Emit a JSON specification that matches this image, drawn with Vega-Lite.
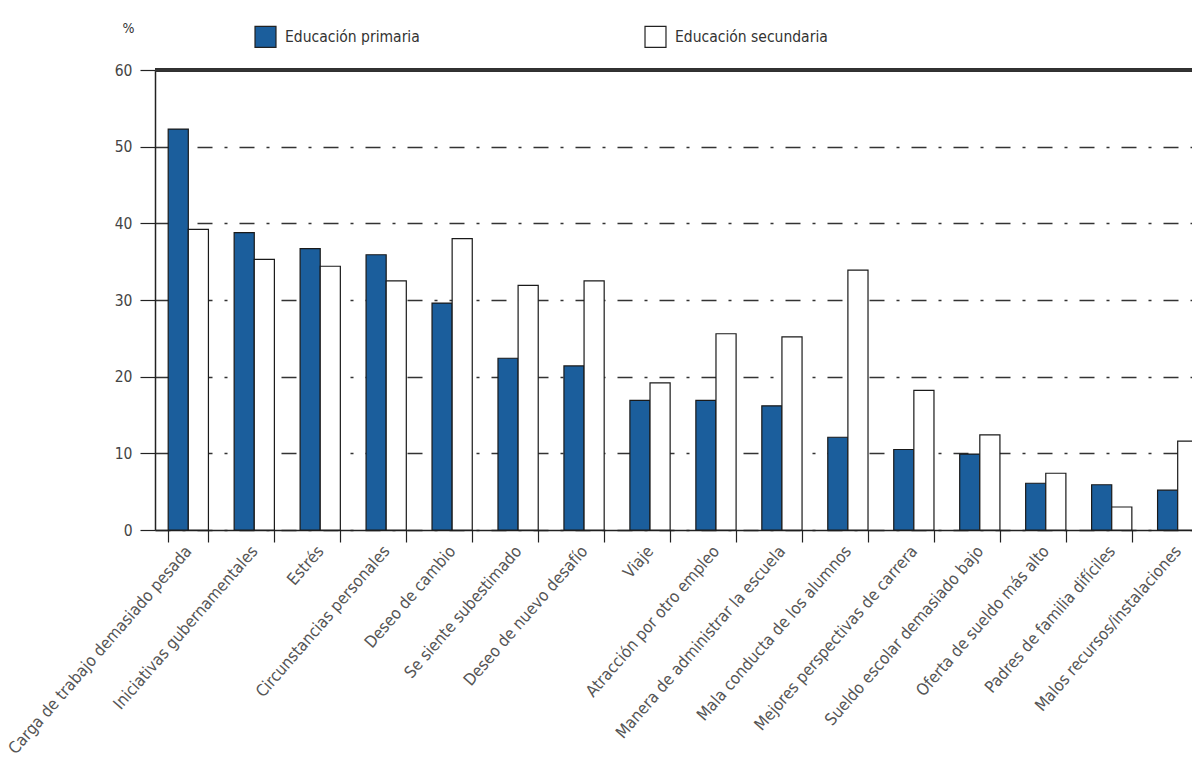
{
  "$schema": "https://vega.github.io/schema/vega-lite/v6.json",
  "width": 1037,
  "height": 460,
  "autosize": {"type": "none"},
  "padding": {"left": 155, "top": 70, "right": 0, "bottom": 241},
  "background": "white",
  "config": {
    "view": {"stroke": null},
    "font": "DejaVu Sans Condensed, Liberation Sans, sans-serif",
    "axis": {"labelFont": "DejaVu Sans Condensed, Liberation Sans, sans-serif", "titleFont": "DejaVu Sans Condensed, Liberation Sans, sans-serif"},
    "legend": {"labelFont": "DejaVu Sans Condensed, Liberation Sans, sans-serif"}
  },
  "data": {
    "values": [
      {"motivo": "Carga de trabajo demasiado pesada", "nivel": "Educación primaria", "valor": 52.3},
      {"motivo": "Carga de trabajo demasiado pesada", "nivel": "Educación secundaria", "valor": 39.2},
      {"motivo": "Iniciativas gubernamentales", "nivel": "Educación primaria", "valor": 38.8},
      {"motivo": "Iniciativas gubernamentales", "nivel": "Educación secundaria", "valor": 35.3},
      {"motivo": "Estrés", "nivel": "Educación primaria", "valor": 36.7},
      {"motivo": "Estrés", "nivel": "Educación secundaria", "valor": 34.4},
      {"motivo": "Circunstancias personales", "nivel": "Educación primaria", "valor": 35.9},
      {"motivo": "Circunstancias personales", "nivel": "Educación secundaria", "valor": 32.5},
      {"motivo": "Deseo de cambio", "nivel": "Educación primaria", "valor": 29.6},
      {"motivo": "Deseo de cambio", "nivel": "Educación secundaria", "valor": 38.0},
      {"motivo": "Se siente subestimado", "nivel": "Educación primaria", "valor": 22.4},
      {"motivo": "Se siente subestimado", "nivel": "Educación secundaria", "valor": 31.9},
      {"motivo": "Deseo de nuevo desafío", "nivel": "Educación primaria", "valor": 21.4},
      {"motivo": "Deseo de nuevo desafío", "nivel": "Educación secundaria", "valor": 32.5},
      {"motivo": "Viaje", "nivel": "Educación primaria", "valor": 16.9},
      {"motivo": "Viaje", "nivel": "Educación secundaria", "valor": 19.2},
      {"motivo": "Atracción por otro empleo", "nivel": "Educación primaria", "valor": 16.9},
      {"motivo": "Atracción por otro empleo", "nivel": "Educación secundaria", "valor": 25.6},
      {"motivo": "Manera de administrar la escuela", "nivel": "Educación primaria", "valor": 16.2},
      {"motivo": "Manera de administrar la escuela", "nivel": "Educación secundaria", "valor": 25.2},
      {"motivo": "Mala conducta de los alumnos", "nivel": "Educación primaria", "valor": 12.1},
      {"motivo": "Mala conducta de los alumnos", "nivel": "Educación secundaria", "valor": 33.9},
      {"motivo": "Mejores perspectivas de carrera", "nivel": "Educación primaria", "valor": 10.5},
      {"motivo": "Mejores perspectivas de carrera", "nivel": "Educación secundaria", "valor": 18.2},
      {"motivo": "Sueldo escolar demasiado bajo", "nivel": "Educación primaria", "valor": 9.9},
      {"motivo": "Sueldo escolar demasiado bajo", "nivel": "Educación secundaria", "valor": 12.4},
      {"motivo": "Oferta de sueldo más alto", "nivel": "Educación primaria", "valor": 6.1},
      {"motivo": "Oferta de sueldo más alto", "nivel": "Educación secundaria", "valor": 7.4},
      {"motivo": "Padres de familia difíciles", "nivel": "Educación primaria", "valor": 5.9},
      {"motivo": "Padres de familia difíciles", "nivel": "Educación secundaria", "valor": 3.0},
      {"motivo": "Malos recursos/instalaciones", "nivel": "Educación primaria", "valor": 5.2},
      {"motivo": "Malos recursos/instalaciones", "nivel": "Educación secundaria", "valor": 11.6}
    ]
  },
  "layer": [
    {
      "mark": {"type": "bar", "stroke": "#1a1a1a", "strokeWidth": 1.2},
      "encoding": {
        "x": {
          "field": "motivo",
          "type": "nominal",
          "sort": null,
          "scale": {"range": [0, 1056], "paddingInner": 0.39, "paddingOuter": 0.2},
          "axis": {
            "title": null,
            "tickBand": "extent",
            "tickSize": 12,
            "tickColor": "#222",
            "tickWidth": 1.2,
            "domainColor": "#222",
            "domainWidth": 1.5,
            "labelAngle": -49,
            "labelAlign": "right",
            "labelBaseline": "middle",
            "labelPadding": 6,
            "labelFontSize": 16.5,
            "labelColor": "#555",
            "labelLimit": 400
          }
        },
        "xOffset": {"field": "nivel", "type": "nominal", "scale": {"paddingInner": 0, "paddingOuter": 0}},
        "y": {
          "field": "valor",
          "type": "quantitative",
          "scale": {"domain": [0, 60], "nice": false},
          "axis": {
            "values": [0, 10, 20, 30, 40, 50, 60],
            "title": "%",
            "titleAngle": 0,
            "titleAlign": "center",
            "titleBaseline": "middle",
            "titleX": -27,
            "titleY": -42,
            "titleFontSize": 14,
            "titleFontWeight": "normal",
            "titleColor": "#333",
            "tickSize": 15,
            "tickColor": "#222",
            "tickWidth": 1.2,
            "domainColor": "#222",
            "domainWidth": 1.5,
            "labelPadding": 8,
            "labelFontSize": 15.5,
            "labelColor": "#444",
            "grid": true,
            "gridColor": "#333",
            "gridWidth": 1.5,
            "gridDash": [15, 12, 3, 12]
          }
        },
        "color": {
          "field": "nivel",
          "type": "nominal",
          "scale": {"domain": ["Educación primaria", "Educación secundaria"], "range": ["#1b5e9c", "#ffffff"]},
          "legend": {
            "title": null,
            "orient": "none",
            "legendX": 99,
            "legendY": -45,
            "direction": "horizontal",
            "columnPadding": 222,
            "symbolType": "square",
            "symbolSize": 440,
            "symbolStrokeColor": "#222",
            "symbolStrokeWidth": 1.2,
            "symbolOpacity": 1,
            "labelFontSize": 15.5,
            "labelColor": "#333",
            "labelOffset": 8
          }
        }
      }
    },
    {
      "mark": {"type": "rule", "color": "#333", "strokeWidth": 2.5},
      "encoding": {"y": {"datum": 60}}
    }
  ]
}
